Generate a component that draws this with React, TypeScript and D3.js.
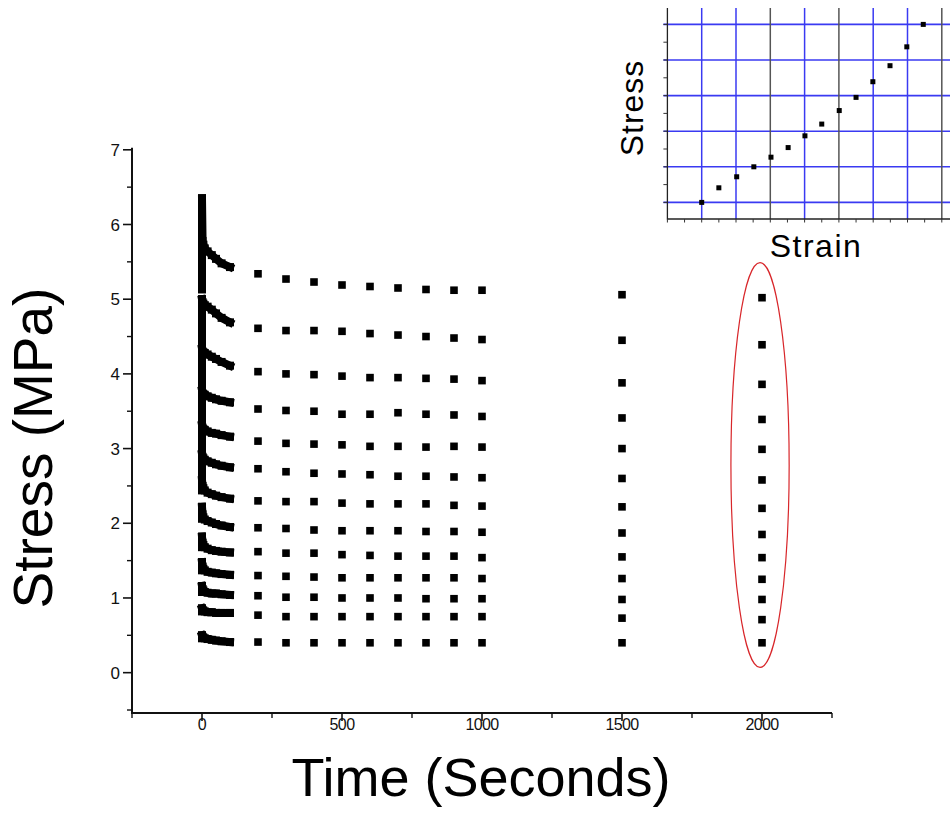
import React from "react";
import * as d3 from "d3";

// ---------- main chart data ----------
const X_TICKS = [0, 500, 1000, 1500, 2000];
const X_MINOR = [-250, 250, 750, 1250, 1750, 2250];
const Y_TICKS = [0, 1, 2, 3, 4, 5, 6, 7];
const Y_MINOR = [-0.5, 0.5, 1.5, 2.5, 3.5, 4.5, 5.5, 6.5];

// early relaxation (first 100 s) for each load step
const EARLY_T = [2, 5, 10, 20, 35, 50, 70, 100];
const PEAK = [6.35, 5.0, 4.34, 3.78, 3.32, 2.93, 2.58, 2.22, 1.82, 1.48, 1.16, 0.86, 0.5];
const RAMP_BASE = [5.13, 4.42, 3.84, 3.36, 2.96, 2.62, 2.44, 2.06, 1.68, 1.37, 1.08, 0.82, 0.46];
const EARLY_VALUES = [
  [5.78, 5.73, 5.68, 5.64, 5.59, 5.54, 5.48, 5.43],
  [4.96, 4.94, 4.92, 4.9, 4.86, 4.81, 4.75, 4.69],
  [4.3, 4.29, 4.28, 4.26, 4.23, 4.2, 4.16, 4.11],
  [3.74, 3.73, 3.72, 3.7, 3.68, 3.66, 3.64, 3.62],
  [3.28, 3.26, 3.25, 3.23, 3.21, 3.2, 3.18, 3.16],
  [2.89, 2.87, 2.85, 2.83, 2.81, 2.79, 2.77, 2.75],
  [2.5, 2.47, 2.44, 2.41, 2.39, 2.37, 2.35, 2.33],
  [2.12, 2.08, 2.05, 2.03, 2.01, 1.99, 1.97, 1.95],
  [1.74, 1.71, 1.68, 1.66, 1.64, 1.63, 1.62, 1.61],
  [1.42, 1.39, 1.37, 1.35, 1.34, 1.33, 1.32, 1.31],
  [1.12, 1.1, 1.08, 1.07, 1.06, 1.06, 1.05, 1.04],
  [0.84, 0.83, 0.82, 0.81, 0.81, 0.8, 0.8, 0.8],
  [0.48, 0.47, 0.46, 0.45, 0.44, 0.43, 0.42, 0.41],
];

// long-time points
const LATE_T = [200, 300, 400, 500, 600, 700, 800, 900, 1000, 1500, 2000];
const LATE_VALUES = [
  [5.34, 5.27, 5.23, 5.19, 5.17, 5.15, 5.13, 5.12, 5.12, 5.06, 5.02],
  [4.61, 4.58, 4.58, 4.57, 4.54, 4.52, 4.5, 4.48, 4.46, 4.45, 4.39],
  [4.03, 4.0, 3.99, 3.97, 3.95, 3.95, 3.94, 3.93, 3.91, 3.88, 3.86],
  [3.53, 3.51, 3.5, 3.46, 3.46, 3.48, 3.46, 3.45, 3.43, 3.41, 3.39],
  [3.1, 3.07, 3.06, 3.05, 3.03, 3.03, 3.02, 3.03, 3.02, 3.0, 2.99],
  [2.73, 2.69, 2.67, 2.66, 2.65, 2.63, 2.63, 2.62, 2.61, 2.6, 2.58],
  [2.3, 2.29, 2.29, 2.27, 2.26, 2.26, 2.26, 2.24, 2.23, 2.22, 2.2],
  [1.94, 1.93, 1.91, 1.9, 1.9, 1.9, 1.89, 1.89, 1.88, 1.87, 1.85],
  [1.62, 1.6, 1.6, 1.58, 1.57, 1.56, 1.56, 1.56, 1.54, 1.55, 1.54],
  [1.3, 1.29, 1.28, 1.27, 1.27, 1.27, 1.27, 1.27, 1.26, 1.26, 1.25],
  [1.03, 1.01, 1.01, 1.0, 1.0, 1.0, 0.99, 0.99, 0.99, 0.98, 0.98],
  [0.77, 0.75, 0.75, 0.75, 0.75, 0.75, 0.75, 0.75, 0.75, 0.73, 0.71],
  [0.41, 0.4, 0.4, 0.4, 0.4, 0.4, 0.4, 0.4, 0.4, 0.4, 0.4],
];

// highlighted group (ellipse) in data units
const ELLIPSE_CENTER = [1993, 2.78];
const ELLIPSE_RADII = [104, 2.71];

// ---------- inset data ----------
const INSET_GRID_X = [1, 2, 3, 4, 5, 6, 7, 8];
const INSET_GRID_Y = [1, 2, 3, 4, 5, 6];
const INSET_STRAIN = [1.0, 1.5, 2.02, 2.52, 3.02, 3.52, 4.01, 4.5, 5.01, 5.5, 5.99, 6.49, 6.98, 7.46];
const INSET_STRESS = [1.0, 1.41, 1.72, 2.0, 2.27, 2.54, 2.87, 3.2, 3.58, 3.95, 4.39, 4.84, 5.37, 6.0];

const FONT = "'Liberation Sans', Arial, sans-serif";

export default function App() {
  const x = d3.scaleLinear().domain([-250, 2250]).range([132, 832]);
  const y = d3.scaleLinear().domain([-0.54, 7]).range([713, 149.8]);

  const ix = d3.scaleLinear().domain([0, 8]).range([667.4, 941.8]);
  const iy = d3.scaleLinear().domain([0, 6]).range([238, 24.4]);

  const line = d3
    .line<[number, number]>()
    .x((d) => x(d[0]))
    .y((d) => y(d[1]));

  const SQ = 8;
  const gridColors = ["#3a3af2", "#3a3af2", "#555", "#3a3af2", "#555", "#3a3af2", "#3a3af2", "#555"];
  const insetMinorX = d3.range(0, 17).map((k) => k * 0.5);
  const insetMinorY = d3.range(2, 13).map((k) => k * 0.5);

  return (
    <svg
      width={950}
      height={816}
      style={{ position: "absolute", left: 0, top: 0, background: "#fff" }}
      fontFamily={FONT}
    >
      <rect x={0} y={0} width={950} height={816} fill="#fff" />

      {/* ---------- inset ---------- */}
      <g>
        {INSET_GRID_Y.map((v) => (
          <line key={"hy" + v} x1={ix(0) - 4} x2={950} y1={iy(v)} y2={iy(v)} stroke="#3a3af2" strokeWidth={1.6} />
        ))}
        {INSET_GRID_X.map((u, i) => (
          <line key={"vx" + u} x1={ix(u)} x2={ix(u)} y1={8} y2={219} stroke={gridColors[i]} strokeWidth={1.5} />
        ))}
        <line x1={ix(0)} x2={ix(0)} y1={8} y2={219.5} stroke="#222" strokeWidth={1.3} />
        <line x1={ix(0)} x2={950} y1={219} y2={219} stroke="#222" strokeWidth={1.6} />
        {insetMinorY.map((v) => (
          <line key={"ity" + v} x1={ix(0) - 4} x2={ix(0)} y1={iy(v)} y2={iy(v)} stroke="#333" strokeWidth={1} />
        ))}
        {insetMinorX.map((u) => (
          <line key={"itx" + u} x1={ix(u)} x2={ix(u)} y1={219} y2={222.5} stroke="#333" strokeWidth={1} />
        ))}
        {INSET_STRAIN.map((u, i) => (
          <rect key={"ip" + i} x={ix(u) - 2.5} y={iy(INSET_STRESS[i]) - 2.5} width={5} height={5} fill="#000" />
        ))}
        <text x={816} y={257} fontSize={32} textAnchor="middle" letterSpacing={1.5} fill="#000">
          Strain
        </text>
        <text
          transform={`translate(643,108) rotate(-90)`}
          fontSize={32}
          textAnchor="middle"
          letterSpacing={1}
          fill="#000"
        >
          Stress
        </text>
      </g>

      {/* ---------- main axes ---------- */}
      <g stroke="#111">
        <line x1={x(-250)} x2={x(-250)} y1={y(7) - 2} y2={y(-0.54)} strokeWidth={2} />
        <line x1={x(-250) - 1} x2={x(2250)} y1={y(-0.54)} y2={y(-0.54)} strokeWidth={2} />
        {Y_TICKS.map((v) => (
          <line key={"yt" + v} x1={x(-250) - 9} x2={x(-250)} y1={y(v)} y2={y(v)} strokeWidth={1.6} />
        ))}
        {Y_MINOR.map((v) => (
          <line key={"ym" + v} x1={x(-250) - 5} x2={x(-250)} y1={y(v)} y2={y(v)} strokeWidth={1.4} />
        ))}
        {X_TICKS.map((t) => (
          <line key={"xt" + t} x1={x(t)} x2={x(t)} y1={y(-0.54)} y2={y(-0.54) + 8} strokeWidth={1.6} />
        ))}
        {X_MINOR.map((t) => (
          <line key={"xm" + t} x1={x(t)} x2={x(t)} y1={y(-0.54)} y2={y(-0.54) + 5} strokeWidth={1.4} />
        ))}
      </g>
      <g fill="#111">
        {Y_TICKS.map((v) => (
          <text key={"yl" + v} x={x(-250) - 12} y={y(v)} dy="0.36em" textAnchor="end" fontSize={17}>
            {v}
          </text>
        ))}
        {X_TICKS.map((t) => (
          <text key={"xl" + t} x={x(t)} y={730} textAnchor="middle" fontSize={16} letterSpacing={-0.6}>
            {t}
          </text>
        ))}
      </g>
      <text x={481} y={796} fontSize={54} textAnchor="middle" fill="#000">
        Time (Seconds)
      </text>
      <text transform={`translate(52,448) rotate(-90)`} fontSize={55} textAnchor="middle" fill="#000">
        Stress (MPa)
      </text>

      {/* ---------- data ---------- */}
      <g>
        {PEAK.map((p, i) => {
          const ramp: [number, number][] = [
            [0, RAMP_BASE[i]],
            [0, p],
          ];
          const relax: [number, number][] = [[0, p], ...EARLY_T.map((t, k) => [t, EARLY_VALUES[i][k]] as [number, number])];
          return (
            <g key={"early" + i}>
              <path d={line(ramp) || ""} fill="none" stroke="#000" strokeWidth={SQ} strokeLinecap="square" />
              <path
                d={line(relax) || ""}
                fill="none"
                stroke="#000"
                strokeWidth={SQ}
                strokeLinecap="square"
                strokeLinejoin="round"
              />
              {relax.map((d, k) => (
                <rect key={k} x={x(d[0]) - SQ / 2} y={y(d[1]) - SQ / 2} width={SQ} height={SQ} fill="#000" />
              ))}
            </g>
          );
        })}
        {LATE_VALUES.map((row, i) =>
          row.map((v, k) => (
            <rect
              key={"late" + i + "-" + k}
              x={x(LATE_T[k]) - 3.8}
              y={y(v) - 3.8}
              width={7.6}
              height={7.6}
              fill="#000"
            />
          ))
        )}
      </g>

      <ellipse
        cx={x(ELLIPSE_CENTER[0])}
        cy={y(ELLIPSE_CENTER[1])}
        rx={x(ELLIPSE_CENTER[0] + ELLIPSE_RADII[0]) - x(ELLIPSE_CENTER[0])}
        ry={y(ELLIPSE_CENTER[1]) - y(ELLIPSE_CENTER[1] + ELLIPSE_RADII[1])}
        fill="none"
        stroke="#d8262a"
        strokeWidth={1.2}
      />
    </svg>
  );
}
